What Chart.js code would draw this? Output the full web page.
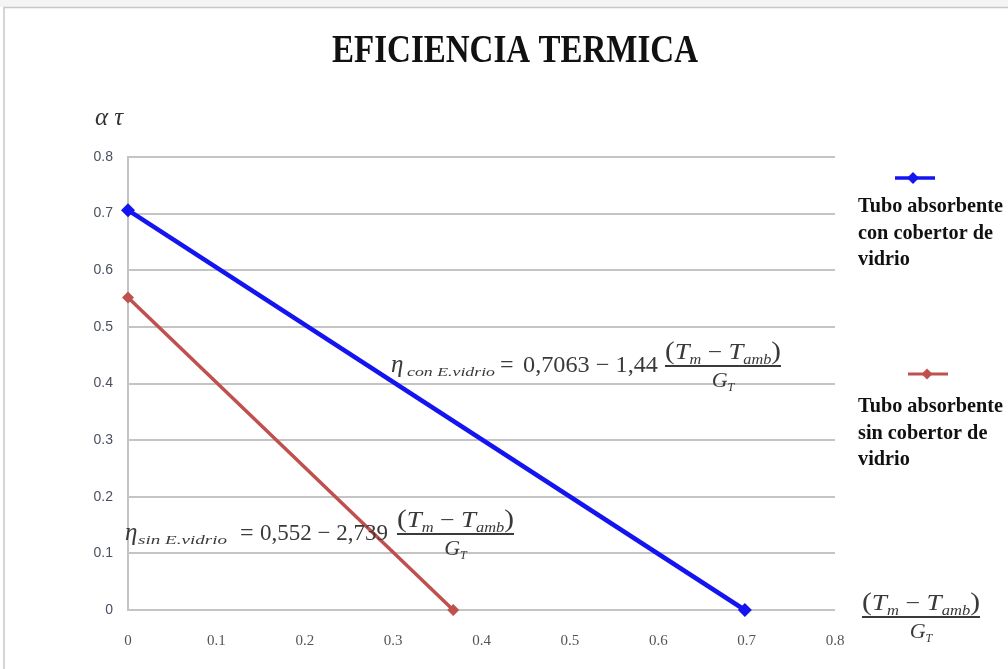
<!DOCTYPE html>
<html>
<head>
<meta charset="utf-8">
<script src="https://cdn.jsdelivr.net/npm/chart.js@4/dist/chart.umd.min.js"></script>
<style>
  html, body { margin: 0; padding: 0; background: #ffffff; }
  #c { display: block; }
</style>
</head>
<body>
<canvas id="c" width="1008" height="669"></canvas>
<script>
// ---- data ----
const titleText = "EFICIENCIA TERMICA";
const seriesNames = ["Tubo absorbente|con cobertor de|vidrio", "Tubo absorbente|sin cobertor de|vidrio"];
const conX = [0, 0.698];
const conY = [0.706, 0];
const sinX = [0, 0.368];
const sinY = [0.552, 0];
const xTicks = [0, 0.1, 0.2, 0.3, 0.4, 0.5, 0.6, 0.7, 0.8];
const yTicks = [0, 0.1, 0.2, 0.3, 0.4, 0.5, 0.6, 0.7, 0.8];
const yAxisLabel = "α τ";
const eqCon = { sub: "con E.vidrio", rhs: "0,7063 − 1,44" };
const eqSin = { sub: "sin E.vidrio", rhs: "0,552 − 2,739" };

const BLUE = "#1414f0";
const RED = "#c0504d";
const SERIF = "'Liberation Serif', 'Times New Roman', serif";

function pts(xs, ys) { return xs.map((x, i) => ({ x: x, y: ys[i] })); }

function drawRuns(ctx, runs, x, y) {
  let cx = x;
  for (const r of runs) {
    ctx.font = r[1];
    ctx.fillText(r[0], cx, y + (r[2] || 0));
    cx += ctx.measureText(r[0]).width;
  }
  return cx;
}
function runsWidth(ctx, runs) {
  let w = 0;
  for (const r of runs) { ctx.font = r[1]; w += ctx.measureText(r[0]).width; }
  return w;
}
function fitText(ctx, text, font, x, y, w) {
  ctx.font = font;
  const m = ctx.measureText(text).width;
  ctx.save();
  ctx.translate(x, y);
  ctx.scale(w / m, 1);
  ctx.fillText(text, 0, 0);
  ctx.restore();
}
function drawFraction(ctx, left, barY, barW) {
  const num = [
    ["(", "25px " + SERIF, 0],
    ["T", "italic 23px " + SERIF, 0],
    ["m", "italic 14px " + SERIF, 5],
    [" − ", "22px " + SERIF, 0],
    ["T", "italic 23px " + SERIF, 0],
    ["amb", "italic 14px " + SERIF, 5],
    [")", "25px " + SERIF, 0]
  ];
  const den = [
    ["G", "italic 22px " + SERIF, 0],
    ["T", "italic 12px " + SERIF, 4]
  ];
  const nw = runsWidth(ctx, num);
  const dw = runsWidth(ctx, den);
  ctx.save();
  ctx.translate(left, 0);
  ctx.scale(barW / nw, 1);
  drawRuns(ctx, num, 0, barY - 7);
  ctx.restore();
  ctx.fillRect(left, barY - 1, barW, 2);
  drawRuns(ctx, den, left + (barW - dw) / 2, barY + 21);
}
// p: positions {eta, subX, subW, eqX, rhsX, rhsW, base, fracL, fracW}
function drawEquation(ctx, eq, p) {
  ctx.font = "italic 25px " + SERIF;
  ctx.fillText("η", p.eta, p.base);
  fitText(ctx, eq.sub, "italic 13px " + SERIF, p.subX, p.base + 4, p.subW);
  ctx.font = "24px " + SERIF;
  ctx.fillText("=", p.eqX, p.base);
  fitText(ctx, eq.rhs, "23px " + SERIF, p.rhsX, p.base, p.rhsW);
  drawFraction(ctx, p.fracL, p.base - 6, p.fracW);
}

const decor = {
  id: "decor",
  beforeDraw(chart) {
    const ctx = chart.ctx;
    ctx.save();
    ctx.fillStyle = "#ffffff";
    ctx.fillRect(0, 0, chart.width, chart.height);
    ctx.fillStyle = "#f4f4f4";
    ctx.fillRect(0, 0, chart.width, 7);
    ctx.strokeStyle = "#c8c8c8";
    ctx.lineWidth = 1.5;
    ctx.beginPath();
    ctx.moveTo(4, 669); ctx.lineTo(4, 7.5); ctx.lineTo(1008, 7.5);
    ctx.stroke();
    ctx.restore();
  },
  afterDraw(chart) {
    const ctx = chart.ctx;
    ctx.save();
    ctx.textBaseline = "alphabetic";
    // title (condensed bold serif)
    ctx.fillStyle = "#111111";
    fitText(ctx, titleText, "bold 40px " + SERIF, 332, 62, 366);

    // y axis label
    ctx.fillStyle = "#333333";
    ctx.font = "italic 25px " + SERIF;
    ctx.fillText(yAxisLabel, 95, 125);

    // equations
    ctx.fillStyle = "#3a3a3a";
    drawEquation(ctx, eqCon, { eta: 391, subX: 407, subW: 88, eqX: 500, rhsX: 523, rhsW: 135, base: 372, fracL: 665, fracW: 116 });
    drawEquation(ctx, eqSin, { eta: 125, subX: 138, subW: 89, eqX: 240, rhsX: 260, rhsW: 128, base: 540, fracL: 397, fracW: 117 });

    // x axis label fraction
    drawFraction(ctx, 862, 617, 118);

    // legend
    const legend = [
      { color: BLUE, lineY: 178, x0: 895, x1: 935, dx: 913, lw: 3.5, r: 6, textY: 212 },
      { color: RED, lineY: 374, x0: 908, x1: 948, dx: 927, lw: 3, r: 5.5, textY: 412 }
    ];
    legend.forEach((l, i) => {
      ctx.strokeStyle = l.color;
      ctx.fillStyle = l.color;
      ctx.lineWidth = l.lw;
      ctx.beginPath();
      ctx.moveTo(l.x0, l.lineY); ctx.lineTo(l.x1, l.lineY);
      ctx.stroke();
      ctx.beginPath();
      ctx.moveTo(l.dx, l.lineY - l.r); ctx.lineTo(l.dx + l.r, l.lineY);
      ctx.lineTo(l.dx, l.lineY + l.r); ctx.lineTo(l.dx - l.r, l.lineY);
      ctx.closePath(); ctx.fill();
      ctx.fillStyle = "#111111";
      const lines = seriesNames[i].split("|");
      ctx.font = "bold 22px " + SERIF;
      const w0 = ctx.measureText(lines[0]).width;
      const s = 145 / w0;
      lines.forEach((t, k) => {
        ctx.save();
        ctx.translate(858, l.textY + k * 26.5);
        ctx.scale(s, 1);
        ctx.fillText(t, 0, 0);
        ctx.restore();
      });
    });
    ctx.restore();
  }
};

new Chart(document.getElementById("c"), {
  type: "scatter",
  data: {
    datasets: [
      {
        label: seriesNames[0].replace(/\|/g, " "),
        data: pts(conX, conY),
        showLine: true,
        clip: false,
        borderColor: BLUE,
        backgroundColor: BLUE,
        borderWidth: 4.5,
        pointStyle: "rectRot",
        pointRadius: 7,
        pointBorderWidth: 0
      },
      {
        label: seriesNames[1].replace(/\|/g, " "),
        data: pts(sinX, sinY),
        showLine: true,
        clip: false,
        borderColor: RED,
        backgroundColor: RED,
        borderWidth: 3.5,
        pointStyle: "rectRot",
        pointRadius: 6,
        pointBorderWidth: 0
      }
    ]
  },
  options: {
    responsive: false,
    animation: false,
    layout: { padding: { left: 0, right: 173, top: 157, bottom: 0 } },
    plugins: {
      legend: { display: false },
      title: { display: false },
      tooltip: { enabled: false }
    },
    scales: {
      x: {
        type: "linear",
        min: 0, max: 0.8,
        afterBuildTicks(scale) { scale.ticks = xTicks.map(v => ({ value: v })); },
        afterFit(scale) { scale.height = 59; },
        grid: { display: false, drawTicks: false },
        border: { display: false },
        ticks: {
          padding: 22,
          color: "#555555",
          font: { family: SERIF, size: 15 },
          callback: v => String(v)
        }
      },
      y: {
        type: "linear",
        min: 0, max: 0.8,
        afterBuildTicks(scale) { scale.ticks = yTicks.map(v => ({ value: v })); },
        afterFit(scale) { scale.width = 128; },
        grid: { color: "#c4c4c4", lineWidth: 2, drawTicks: false },
        border: { display: true, color: "#c4c4c4", width: 2 },
        ticks: {
          padding: 15,
          color: "#4a5060",
          font: { family: "'Liberation Sans', Arial, sans-serif", size: 14 },
          callback: v => String(v)
        }
      }
    }
  },
  plugins: [decor]
});
</script>
</body>
</html>
